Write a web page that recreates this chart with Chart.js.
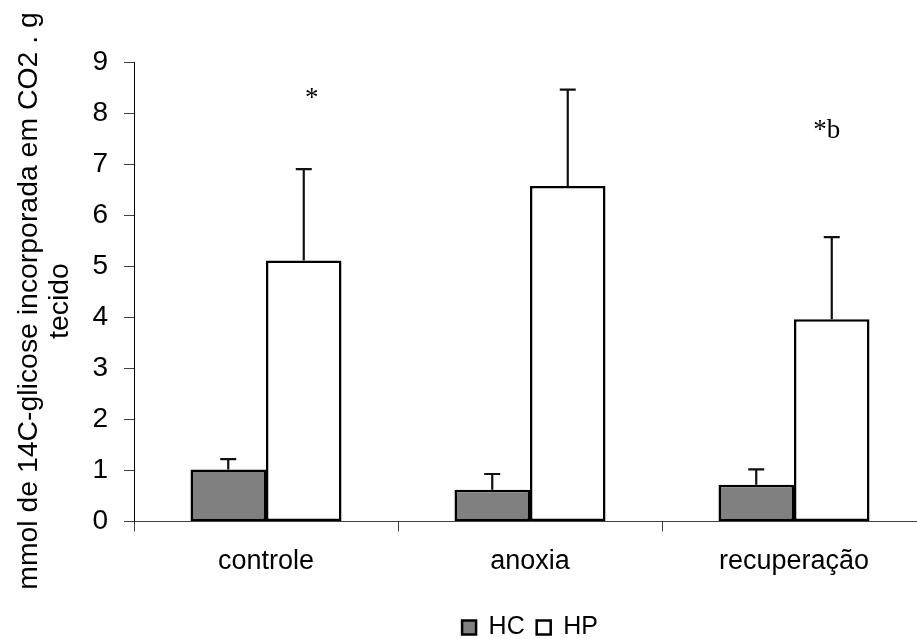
<!DOCTYPE html>
<html><head><meta charset="utf-8">
<script src="https://cdn.jsdelivr.net/npm/chart.js@4.4.0/dist/chart.umd.min.js"></script>
<style>html,body{margin:0;padding:0;overflow:hidden;background:#fff;width:917px;height:639px}canvas{display:block}</style>
</head><body>
<canvas id="c" width="930" height="639"></canvas>
<script>
const categories = ['controle', 'anoxia', 'recuperação'];
const seriesNames = ['HC', 'HP'];
const hcMeans = [1.02, 0.62, 0.72];
const hpMeans = [5.11, 6.57, 3.96];
const hcErrTop = [1.22, 0.93, 1.02];
const hpErrTop = [6.90, 8.46, 5.57];
const yTicks = [0, 1, 2, 3, 4, 5, 6, 7, 8, 9];
const hpMarks = ['*', '', '*b'];
const hpMarkLevels = [8.14, null, 7.51];
const yTitleLines = ['mmol de 14C-glicose incorporada em CO2 . g', 'tecido'];

const SANS = "'Liberation Sans', Arial, sans-serif";
const SERIF = "'Liberation Serif', 'Times New Roman', serif";

const errorBars = {
  id: 'errorBars',
  afterDatasetsDraw(chart) {
    const ctx = chart.ctx, y = chart.scales.y;
    chart.data.datasets.forEach((ds, i) => {
      const meta = chart.getDatasetMeta(i);
      meta.data.forEach((bar, j) => {
        const top = y.getPixelForValue(ds.data[j]);
        const e = y.getPixelForValue(ds.errTop[j]);
        ctx.save();
        ctx.strokeStyle = '#111';
        ctx.lineWidth = 2.2;
        ctx.beginPath();
        ctx.moveTo(bar.x, top);
        ctx.lineTo(bar.x, e);
        ctx.moveTo(bar.x - 8, e);
        ctx.lineTo(bar.x + 8, e);
        ctx.stroke();
        ctx.restore();
      });
    });
  }
};

const marks = {
  id: 'marks',
  afterDatasetsDraw(chart, args, opts) {
    const ctx = chart.ctx, y = chart.scales.y;
    const meta = chart.getDatasetMeta(1);
    ctx.save();
    ctx.font = '27px ' + SERIF;
    ctx.fillStyle = '#000';
    ctx.textAlign = 'center';
    ctx.textBaseline = 'alphabetic';
    hpMarks.forEach((t, j) => {
      if (!t) return;
      ctx.fillText(t, meta.data[j].x + opts.dx[j], y.getPixelForValue(hpMarkLevels[j]));
    });
    ctx.restore();
  }
};

const yTitle = {
  id: 'yTitle',
  afterDraw(chart, args, opts) {
    const ctx = chart.ctx;
    ctx.save();
    ctx.font = '28.4px ' + SANS;
    ctx.fillStyle = '#000';
    ctx.textAlign = 'center';
    ctx.textBaseline = 'alphabetic';
    yTitleLines.forEach((line, k) => {
      ctx.save();
      ctx.translate(opts.x + k * opts.gap, opts.cy);
      ctx.rotate(-Math.PI / 2);
      ctx.fillText(line, 0, 0);
      ctx.restore();
    });
    ctx.restore();
  }
};

const legendPlace = {
  id: 'legendPlace',
  afterLayout(chart, args, opts) {
    const lg = chart.legend;
    if (!lg) return;
    lg.left = chart.chartArea.left;
    lg.right = chart.chartArea.right;
    lg.top += opts.dy;
    lg.bottom += opts.dy;
  }
};

new Chart(document.getElementById('c'), {
  type: 'bar',
  data: {
    labels: categories,
    datasets: [
      { label: seriesNames[0], data: hcMeans, errTop: hcErrTop, backgroundColor: '#808080', borderColor: '#000', borderWidth: 2.5, borderSkipped: false },
      { label: seriesNames[1], data: hpMeans, errTop: hpErrTop, backgroundColor: '#ffffff', borderColor: '#000', borderWidth: 2.5, borderSkipped: false }
    ]
  },
  options: {
    responsive: false,
    animation: false,
    devicePixelRatio: 1,
    layout: { padding: { left: 0, right: 4, top: 62, bottom: 0 } },
    datasets: { bar: { categoryPercentage: 0.572, barPercentage: 1 } },
    scales: {
      x: {
        grid: { display: true, drawOnChartArea: false, drawTicks: true, tickLength: 10, color: '#404040', offset: true },
        border: { display: true, color: '#404040', width: 1 },
        ticks: { font: { family: SANS, size: 27 }, color: '#000', padding: 14 },
        afterFit(s) { s.height = 70.5; }
      },
      y: {
        min: 0, max: 9,
        afterBuildTicks(s) { s.ticks = yTicks.map(v => ({ value: v })); },
        grid: { display: true, drawOnChartArea: false, drawTicks: true, tickLength: 10, color: '#404040' },
        border: { display: true, color: '#000', width: 1 },
        ticks: { font: { family: SANS, size: 28 }, color: '#000', padding: 16 },
        afterFit(s) { s.width = 134; }
      }
    },
    plugins: {
      legend: {
        position: 'bottom',
        labels: { font: { family: SANS, size: 25 }, color: '#000', boxWidth: 14, boxHeight: 14, padding: 12 }
      },
      tooltip: { enabled: false },
      marks: { dx: [8, 0, -5] },
      yTitle: { x: 37, gap: 31, cy: 301 },
      legendPlace: { dy: 11 }
    }
  },
  plugins: [errorBars, marks, yTitle, legendPlace]
});
</script>
</body></html>
